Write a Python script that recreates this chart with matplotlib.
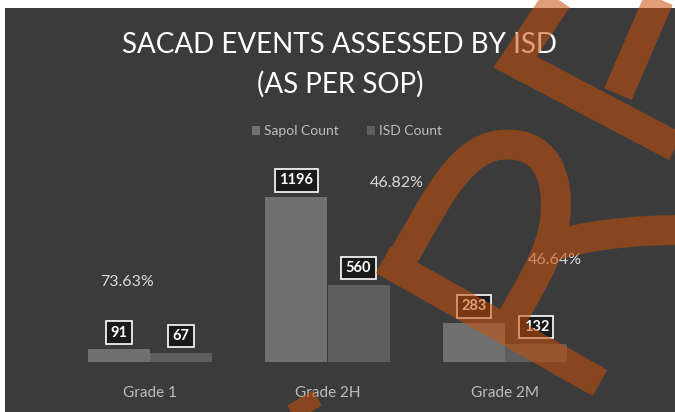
import matplotlib
matplotlib.use("Agg")
import matplotlib.pyplot as plt
import numpy as np
from matplotlib.patches import Rectangle, PathPatch
from matplotlib.path import Path

plt.rcParams['font.family'] = ['Lato', 'DejaVu Sans']

# ---- data ----
categories = ["Grade 1", "Grade 2H", "Grade 2M"]
sapol_count = [91, 1196, 283]
isd_count = [67, 560, 132]
series_names = ["Sapol Count", "ISD Count"]
title_line1 = "SACAD EVENTS ASSESSED BY ISD"
title_line2 = "(AS PER SOP)"

# positions of the ratio labels (x in category units, y in data units)
pct_pos_x = [-0.13, 1.39, 2.28]
pct_pos_y = [580, 1297, 739]

W, H = 675, 412
fig = plt.figure(figsize=(W / 100, H / 100), dpi=100, facecolor="white")

BG = "#3b3b3b"
fig.add_artist(Rectangle((5 / W, 0), 1 - 5 / W, 1 - 8 / H, transform=fig.transFigure,
                         facecolor=BG, edgecolor="none", zorder=0))

ax = fig.add_axes([61 / W, (H - 362) / H, 533 / W, 207 / H])
ax.set_facecolor("none")
ax.set_xlim(-0.5, 2.5)
ax.set_ylim(0, 1500)
for s in ax.spines.values():
    s.set_visible(False)
ax.set_yticks([])

x = np.arange(len(categories))
bw = 0.35
c_sapol = "#707070"
c_isd = "#5e5e5e"
b1 = ax.bar(x - bw / 2, sapol_count, bw, color=c_sapol, label=series_names[0], zorder=2)
b2 = ax.bar(x + bw / 2, isd_count, bw, color=c_isd, label=series_names[1], zorder=2)

ax.set_xticks(x)
ax.set_xticklabels(categories, color="#bdbdbd", fontsize=11)
ax.tick_params(axis="x", length=0, pad=17)

box = dict(boxstyle="square,pad=0.3", facecolor="#1a1a1a", edgecolor="white", linewidth=1.2)
for bars, vals in ((b1, sapol_count), (b2, isd_count)):
    for r, v in zip(bars, vals):
        ax.annotate(str(v), (r.get_x() + r.get_width() / 2, r.get_height()),
                    xytext=(0, 7), textcoords="offset points", ha="center", va="bottom",
                    color="white", fontsize=10.5, fontweight="bold", bbox=box, zorder=5,
                    annotation_clip=False)

for i in range(len(categories)):
    pct = isd_count[i] / sapol_count[i] * 100
    ax.text(pct_pos_x[i], pct_pos_y[i], f"{pct:.2f}%", ha="center", va="center",
            color="#d9d9d9", fontsize=11.5, zorder=5, clip_on=False)

fig.text(340 / W, 1 - 45 / H, title_line1, ha="center", va="center", color="white", fontsize=20)
fig.text(340 / W, 1 - 84 / H, title_line2, ha="center", va="center", color="white", fontsize=20)

fig.legend(handles=[b1, b2], loc="center", bbox_to_anchor=(347 / W, 1 - 131 / H),
           ncol=2, frameon=False, fontsize=10, labelcolor="#bdbdbd",
           handlelength=0.6, handleheight=0.6, handletextpad=0.3, columnspacing=2.0)

# ---- watermark overlay (scan artifact), drawn as one stroked path ----
def px(p):
    return (p[0] / W, 1 - p[1] / H)

verts, codes = [], []

def seg(pts, kind):
    verts.append(px(pts[0]))
    codes.append(Path.MOVETO)
    for p in pts[1:]:
        verts.append(px(p))
        codes.append(kind)

seg([(562, -8), (515, 62), (682, 150)], Path.LINETO)
seg([(618, 94), (662, -8)], Path.LINETO)
seg([(383, 260), (600, 383)], Path.LINETO)
seg([(400, 262), (430, 215), (455, 150), (500, 145),
     (545, 140), (560, 175), (555, 220),
     (550, 260), (525, 292), (505, 332)], Path.CURVE4)
seg([(548, 248), (580, 236), (630, 230), (682, 230)], Path.CURVE4)
seg([(300, 398), (332, 452)], Path.LINETO)

fig.add_artist(PathPatch(Path(verts, codes), transform=fig.transFigure, fill=False,
                         edgecolor="#c8500a", alpha=0.55, linewidth=21.5, zorder=10,
                         capstyle="butt", joinstyle="miter"))

fig.savefig("out.png", dpi=100, facecolor="white")
